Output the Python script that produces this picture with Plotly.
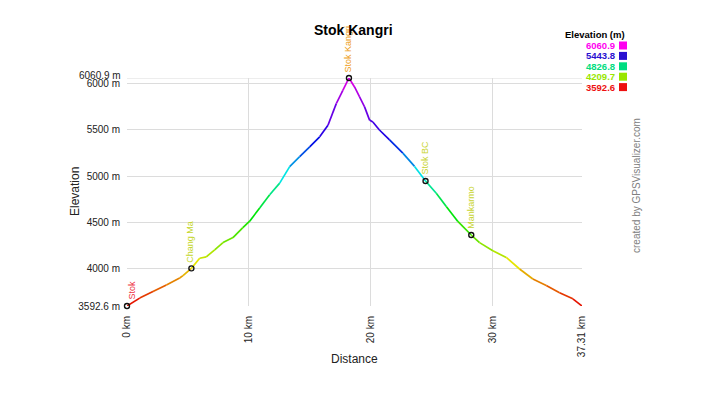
import colorsys
import plotly.graph_objects as go

# ---------------- data ----------------
distance_km = [0.00, 1.04, 2.13, 3.23, 4.32, 4.59, 5.28, 5.96, 6.50, 7.19, 7.87, 8.69,
               9.50, 10.06, 10.88, 11.70, 12.52, 13.34, 14.16, 14.98, 15.80, 16.48,
               17.16, 17.70, 18.20, 18.66, 19.07, 19.48, 19.89, 20.16, 20.70, 21.53,
               22.62, 23.58, 24.48, 25.36, 26.18, 27.13, 28.23, 28.91, 30.00, 31.10,
               32.19, 33.28, 34.38, 35.47, 36.56, 37.31]
elevation_m = [3592.6, 3678, 3749, 3821, 3896, 3921, 4000, 4110, 4125, 4200, 4279, 4333,
               4440, 4511, 4654, 4797, 4923, 5101, 5209, 5316, 5424, 5549,
               5783, 5926, 6060.9, 5964, 5856, 5748, 5605, 5585, 5498, 5390,
               5247, 5104, 4946, 4813, 4669, 4508, 4361, 4279, 4190, 4118,
               3993, 3885, 3814, 3735, 3670, 3592.6]

waypoint_names = ["Stok", "Chang Ma", "Stok Kangri", "Stok BC", "Mankarmo"]
waypoint_km = [0.00, 5.28, 18.20, 24.48, 28.23]
waypoint_elev = [3592.6, 4000, 6060.9, 4946, 4361]
waypoint_label_colors = ["#ee3344", "#c4d62a", "#eea020", "#c8d430", "#c8d430"]

legend_values = ["6060.9", "5443.8", "4826.8", "4209.7", "3592.6"]
legend_colors = ["#ff00f0", "#2a10d0", "#00dd80", "#99e600", "#ee1010"]

x_tick_vals = [0, 10, 20, 30, 37.31]
x_tick_text = ["0 km", "10 km", "20 km", "30 km", "37.31 km"]
y_tick_vals = [3592.6, 4000, 4500, 5000, 5500, 6000, 6060.9]
y_tick_text = ["3592.6 m", "4000 m", "4500 m", "5000 m", "5500 m", "6000 m", "6060.9 m"]

E_MIN, E_MAX = 3592.6, 6060.9
FONT = "Arial, 'Liberation Sans', sans-serif"

# ---------------- helpers ----------------
W, H = 709, 399
L, R, T, B = 127, 127, 78, 93
PW, PH = W - L - R, H - T - B


def px_x(px):
    return (px - L) / PW


def px_y(py):
    return (H - B - py) / PH


def elev_color(e):
    t = max(0.0, min(1.0, (e - E_MIN) / (E_MAX - E_MIN)))
    ts = [0, 0.25, 0.5, 0.75, 1.0]
    hs = [0, 80, 150, 248, 300]
    for i in range(4):
        if t <= ts[i + 1]:
            f = (t - ts[i]) / (ts[i + 1] - ts[i])
            h = hs[i] + f * (hs[i + 1] - hs[i])
            break
    r, g, b = colorsys.hsv_to_rgb(h / 360.0, 1.0, 0.9)
    return "rgb(%d,%d,%d)" % (r * 255, g * 255, b * 255)


fig = go.Figure()

# gradient-coloured profile (one segment per pair of points)
for i in range(len(distance_km) - 1):
    mid = (elevation_m[i] + elevation_m[i + 1]) / 2
    fig.add_trace(go.Scatter(
        x=[distance_km[i], distance_km[i + 1]],
        y=[elevation_m[i], elevation_m[i + 1]],
        mode="lines",
        line=dict(color=elev_color(mid), width=1.7),
        hoverinfo="skip", showlegend=False, cliponaxis=False))

# waypoints
fig.add_trace(go.Scatter(
    x=waypoint_km, y=waypoint_elev, mode="markers",
    marker=dict(symbol="circle-open", size=5, color="#111111", line=dict(width=1.4)),
    showlegend=False, cliponaxis=False, text=waypoint_names, hoverinfo="text"))

annotations = []
for name, xk, ev, col in zip(waypoint_names, waypoint_km, waypoint_elev, waypoint_label_colors):
    annotations.append(dict(
        x=xk, y=ev, xref="x", yref="y", text=name, textangle=-90,
        showarrow=False, xanchor="center", yanchor="bottom", yshift=4,
        xshift=4 if xk == 0 else -1,
        font=dict(family=FONT, size=9, color=col)))

# top y label drawn a little higher, as in the original
annotations.append(dict(
    x=0, y=y_tick_vals[-1], xref="paper", yref="y", text=y_tick_text[-1],
    showarrow=False, xanchor="right", yanchor="middle", xshift=-4, yshift=3,
    font=dict(family=FONT, size=10, color="#222222")))

# axis titles
annotations.append(dict(
    x=px_x(354), y=px_y(359), xref="paper", yref="paper", text="Distance",
    showarrow=False, xanchor="center", yanchor="middle",
    font=dict(family=FONT, size=12, color="#222222")))
annotations.append(dict(
    x=px_x(75), y=px_y(192), xref="paper", yref="paper", text="Elevation",
    textangle=-90, showarrow=False, xanchor="center", yanchor="middle",
    font=dict(family=FONT, size=12, color="#222222")))

# title
annotations.append(dict(
    x=px_x(353), y=px_y(30), xref="paper", yref="paper", text="<b>Stok Kangri</b>",
    showarrow=False, xanchor="center", yanchor="middle",
    font=dict(family=FONT, size=14, color="#000000")))

# legend
annotations.append(dict(
    x=px_x(627), y=px_y(34), xref="paper", yref="paper", text="<b>Elevation (m)</b>",
    showarrow=False, xanchor="right", yanchor="middle",
    font=dict(family=FONT, size=9.5, color="#000000")))
shapes = []
row_y = [45.5, 55.9, 66.3, 76.7, 87.1]
for val, col, ry in zip(legend_values, legend_colors, row_y):
    annotations.append(dict(
        x=px_x(617), y=px_y(ry), xref="paper", yref="paper", text="<b>%s</b>" % val,
        showarrow=False, xanchor="right", yanchor="middle",
        font=dict(family=FONT, size=9.5, color=col)))
    shapes.append(dict(type="rect", xref="paper", yref="paper",
                       x0=px_x(619), x1=px_x(627), y0=px_y(ry + 4), y1=px_y(ry - 4),
                       fillcolor=col, line=dict(width=0)))

# credit
annotations.append(dict(
    x=px_x(636), y=px_y(186), xref="paper", yref="paper",
    text="created by GPSVisualizer.com", textangle=-90, showarrow=False,
    xanchor="center", yanchor="middle",
    font=dict(family=FONT, size=10, color="#808080")))

# gridline at the top edge (6060.9) like the original
shapes.append(dict(type="line", xref="paper", yref="y", x0=0, x1=1,
                   y0=E_MAX, y1=E_MAX, line=dict(color="#dcdcdc", width=1), layer="below"))

fig.update_layout(
    width=W, height=H,
    margin=dict(l=L, r=R, t=T, b=B, pad=0, autoexpand=False),
    paper_bgcolor="white", plot_bgcolor="white",
    showlegend=False,
    annotations=annotations, shapes=shapes,
    xaxis=dict(range=[0, 37.31], tickvals=x_tick_vals, ticktext=x_tick_text,
               tickangle=-90, showgrid=True, gridcolor="#dcdcdc", gridwidth=1,
               zeroline=False, showline=False, ticks="outside", ticklen=5,
               tickcolor="rgba(0,0,0,0)", automargin=False,
               tickfont=dict(family=FONT, size=10, color="#222222"),
               fixedrange=True),
    yaxis=dict(range=[E_MIN, E_MAX], tickvals=y_tick_vals[:-1], ticktext=y_tick_text[:-1],
               showgrid=True, gridcolor="#dcdcdc", gridwidth=1,
               zeroline=False, showline=False, ticks="outside", ticklen=4,
               tickcolor="rgba(0,0,0,0)", automargin=False,
               tickfont=dict(family=FONT, size=10, color="#222222"),
               fixedrange=True),
)

fig.write_html("out.html", config={"displayModeBar": False},
               post_script="document.body.style.margin='0px';document.body.style.overflow='hidden';")
